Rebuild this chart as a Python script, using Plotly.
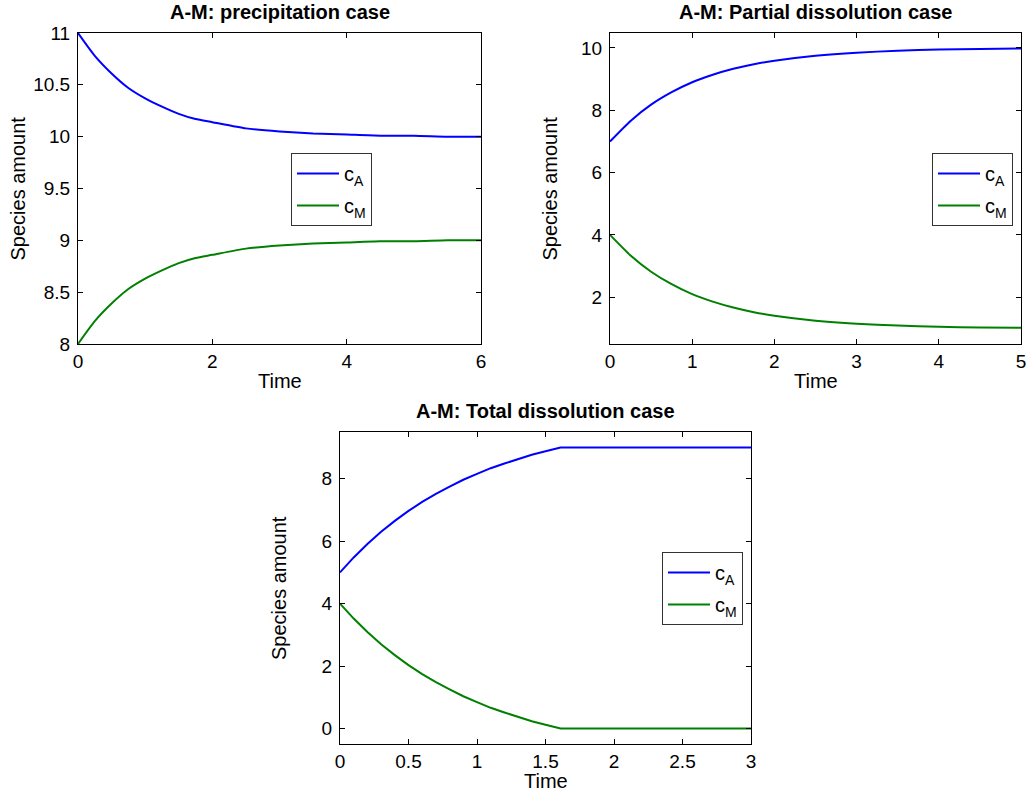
import plotly.graph_objects as go

# ---- data ----
t1 = [0, 0.25, 0.5, 0.75, 1, 1.25, 1.5, 1.75, 2, 2.5, 3, 3.5, 4, 4.5, 5, 5.5, 6]
cA1 = [11.00, 10.78, 10.61, 10.47, 10.37, 10.29, 10.22, 10.17, 10.14, 10.08, 10.05, 10.03, 10.02, 10.01, 10.01, 10.00, 10.00]
cM1 = [8.00, 8.22, 8.39, 8.53, 8.63, 8.71, 8.78, 8.83, 8.86, 8.92, 8.95, 8.97, 8.98, 8.99, 8.99, 9.00, 9.00]

t2 = [0, 0.25, 0.5, 0.75, 1, 1.25, 1.5, 1.75, 2, 2.5, 3, 3.5, 4, 4.5, 5]
cA2 = [7.00, 7.66, 8.18, 8.58, 8.90, 9.14, 9.33, 9.48, 9.59, 9.75, 9.85, 9.91, 9.95, 9.97, 9.98]
cM2 = [4.00, 3.34, 2.82, 2.42, 2.10, 1.86, 1.67, 1.52, 1.41, 1.25, 1.15, 1.09, 1.05, 1.03, 1.02]

t3 = [0, 0.1, 0.2, 0.3, 0.4, 0.5, 0.6, 0.7, 0.8, 0.9, 1.0, 1.1, 1.2, 1.3, 1.4, 1.5, 1.61, 2, 2.5, 3]
cA3 = [5.00, 5.48, 5.91, 6.30, 6.65, 6.97, 7.26, 7.52, 7.75, 7.97, 8.16, 8.34, 8.49, 8.64, 8.77, 8.88, 9.00, 9.00, 9.00, 9.00]
cM3 = [4.00, 3.52, 3.09, 2.70, 2.35, 2.03, 1.74, 1.48, 1.25, 1.03, 0.84, 0.66, 0.51, 0.36, 0.23, 0.12, 0.00, 0.00, 0.00, 0.00]

titles = ["A-M: precipitation case", "A-M: Partial dissolution case", "A-M: Total dissolution case"]
series_names = ["c<sub>A</sub>", "c<sub>M</sub>"]
colors = ["#0000FF", "#008000"]

W, H = 1027, 796
FONT = "Arial, Liberation Sans, Helvetica, sans-serif"
FS = 20
TFS = 19

# panel boxes in pixels: left, right, top, bottom
boxes = [(78, 481, 33, 344), (610, 1021, 33, 344), (340, 751, 432, 744)]
legend_pos = [(291, 153), (932, 153), (662, 552)]
xranges = [[0, 6], [0, 5], [0, 3]]
yranges = [[8, 11], [0.5, 10.48], [-0.5, 9.5]]
xticks = [[0, 2, 4, 6], [0, 1, 2, 3, 4, 5], [0, 0.5, 1, 1.5, 2, 2.5, 3]]
yticks = [[8, 8.5, 9, 9.5, 10, 10.5, 11], [2, 4, 6, 8, 10], [0, 2, 4, 6, 8]]
shapes = ["spline", "spline", "linear"]

data = [(t1, cA1, cM1), (t2, cA2, cM2), (t3, cA3, cM3)]

fig = go.Figure()
annotations = []
layout = {}
for i, ((t, a, m), box) in enumerate(zip(data, boxes)):
    k = "" if i == 0 else str(i + 1)
    leg = "legend" if i == 0 else "legend" + str(i + 1)
    for j, (y, name, c) in enumerate(zip((a, m), series_names, colors)):
        fig.add_trace(go.Scatter(x=t, y=y, mode="lines", name=name,
                                 line=dict(color=c, width=2, shape=shapes[i], smoothing=0.6),
                                 xaxis="x" + k, yaxis="y" + k, legend=leg,
                                 legendgroup="g%d_%d" % (i, j)))
    l, r, tp, b = box
    common = dict(showline=True, linecolor="black", linewidth=1, mirror="ticks",
                  ticks="inside", ticklen=5, tickcolor="black", showgrid=False,
                  zeroline=False, tickfont=dict(family=FONT, size=TFS, color="black"),
                  automargin=False, ticklabeloverflow="allow")
    layout["xaxis" + k] = dict(domain=[l / W, r / W], range=xranges[i], tickvals=xticks[i],
                               anchor="y" + k, **common)
    layout["yaxis" + k] = dict(domain=[(H - b) / H, (H - tp) / H], range=yranges[i],
                               tickvals=yticks[i], anchor="x" + k, ticklabelstandoff=3, **common)
    lx, ly = legend_pos[i]
    layout[leg] = dict(x=lx / W, y=(H - ly) / H, xanchor="left", yanchor="top",
                       bgcolor="white", bordercolor="#333333", borderwidth=1,
                       tracegroupgap=3, itemwidth=42,
                       font=dict(family=FONT, size=20, color="black"))
    cx = (l + r) / 2
    annotations.append(dict(text="<b>" + titles[i] + "</b>", x=cx / W, y=(H - (tp - 21)) / H,
                            xref="paper", yref="paper", showarrow=False, xanchor="center",
                            yanchor="middle", font=dict(family=FONT, size=FS, color="black")))
    annotations.append(dict(text="Time", x=cx / W, y=(H - (b + 37)) / H, xref="paper",
                            yref="paper", showarrow=False, xanchor="center", yanchor="middle",
                            font=dict(family=FONT, size=FS, color="black")))
    annotations.append(dict(text="Species amount", x=(l - 61) / W, y=(H - (tp + b) / 2) / H,
                            xref="paper", yref="paper", showarrow=False, textangle=-90,
                            xanchor="center", yanchor="middle",
                            font=dict(family=FONT, size=FS, color="black")))

fig.update_layout(width=W, height=H, margin=dict(l=0, r=0, t=0, b=0),
                  paper_bgcolor="white", plot_bgcolor="white",
                  annotations=annotations, **layout)
fig.write_html("out.html", config={"displayModeBar": False},
               post_script="document.body.style.margin='0';document.body.style.overflow='hidden';")
